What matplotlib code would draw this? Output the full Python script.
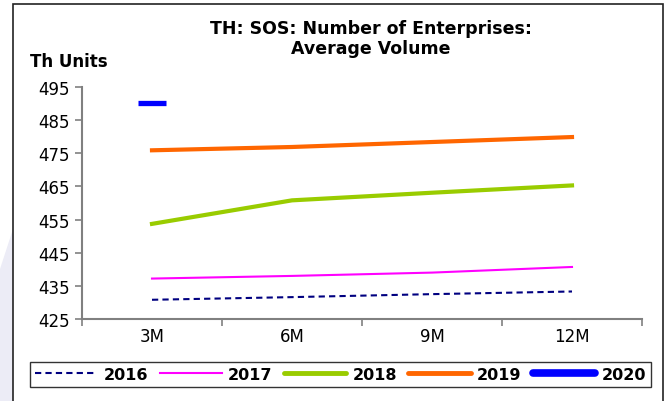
import matplotlib
matplotlib.use("Agg")
import matplotlib.pyplot as plt
from matplotlib.lines import Line2D
from matplotlib.patches import Rectangle, Polygon

plt.rcParams['font.family'] = ['DejaVu Sans']

categories = ["3M", "6M", "9M", "12M"]
s2016 = [430.8, 431.6, 432.5, 433.3]
s2017 = [437.2, 438.0, 439.0, 440.7]
s2018 = [453.7, 460.8, 463.1, 465.3]
s2019 = [475.9, 476.9, 478.4, 479.9]
s2020 = [490.1]
yticks = [425, 435, 445, 455, 465, 475, 485, 495]

W, H = 669, 402
fig = plt.figure(figsize=(W / 100, H / 100), dpi=100)
fig.patch.set_facecolor("white")

# faint lavender decoration outside left frame
fig.patches.append(Polygon([(0, 0), (13 / W, 0), (13 / W, 1 - 230 / H), (0, 1 - 270 / H)],
                           closed=True, transform=fig.transFigure,
                           facecolor="#ECECF6", edgecolor="none", zorder=0))
# outer frame
fig.patches.append(Rectangle((13 / W, -0.01), (663 - 13) / W, 1 - 5 / H + 0.01,
                             transform=fig.transFigure, fill=False,
                             edgecolor="#222222", linewidth=1.2, zorder=1))

ax = fig.add_axes([82 / W, 1 - 320 / H, (642 - 82) / W, (320 - 88) / H])
ax.set_facecolor("none")
x = list(range(len(categories)))

ax.plot(x, s2016, color="#000080", linewidth=1.5, linestyle=(0, (3, 2)))
ax.plot(x, s2017, color="#FF00FF", linewidth=1.5)
ax.plot(x, s2018, color="#99CC00", linewidth=3)
ax.plot(x, s2019, color="#FF6600", linewidth=3)
ax.plot(x[:len(s2020)], s2020, color="#0000FF", linestyle="none",
        marker="_", markersize=20, markeredgewidth=3.8)

ax.set_xlim(-0.5, len(categories) - 0.5)
ax.set_ylim(425, 495)
ax.set_yticks(yticks)
ax.set_yticklabels([str(v) for v in yticks], fontsize=12)
ax.set_xticks([i - 0.5 for i in range(len(categories) + 1)])
ax.set_xticklabels([])
ax.set_xticks(x, minor=True)
ax.set_xticklabels(categories, minor=True, fontsize=12)
ax.tick_params(axis="x", which="minor", length=0, pad=6)
ax.tick_params(axis="x", which="major", length=5, color="#808080", width=1.2)
ax.tick_params(axis="y", length=5, color="#808080", width=1.2, pad=4)
for s in ["top", "right"]:
    ax.spines[s].set_visible(False)
for s in ["left", "bottom"]:
    ax.spines[s].set_color("#808080")
    ax.spines[s].set_linewidth(1.5)

fig.text(371 / W, 1 - 39 / H, "TH: SOS: Number of Enterprises:\nAverage Volume",
         ha="center", va="center", fontsize=12.5, fontweight="bold", linespacing=1.1)
fig.text(30 / W, 1 - 62 / H, "Th Units", ha="left", va="center",
         fontsize=12, fontweight="bold")

handles = [
    Line2D([], [], color="#000080", linewidth=1.5, linestyle=(0, (3, 2))),
    Line2D([], [], color="#FF00FF", linewidth=1.5),
    Line2D([], [], color="#99CC00", linewidth=3.5, solid_capstyle="round"),
    Line2D([], [], color="#FF6600", linewidth=3.5, solid_capstyle="round"),
    Line2D([], [], color="#0000FF", linewidth=5.5, solid_capstyle="round"),
]
labels = ["2016", "2017", "2018", "2019", "2020"]
leg = fig.legend(handles, labels, loc="center", ncol=5,
                 bbox_to_anchor=(340.5 / W, 1 - 375.5 / H),
                 prop={"weight": "bold", "size": 11.5},
                 handlelength=3.9, handletextpad=0.4, columnspacing=0.7,
                 frameon=True, fancybox=False, borderpad=0.3, borderaxespad=0)
leg.get_frame().set_edgecolor("black")
leg.get_frame().set_linewidth(1.0)

fig.savefig("out.png", dpi=100)
